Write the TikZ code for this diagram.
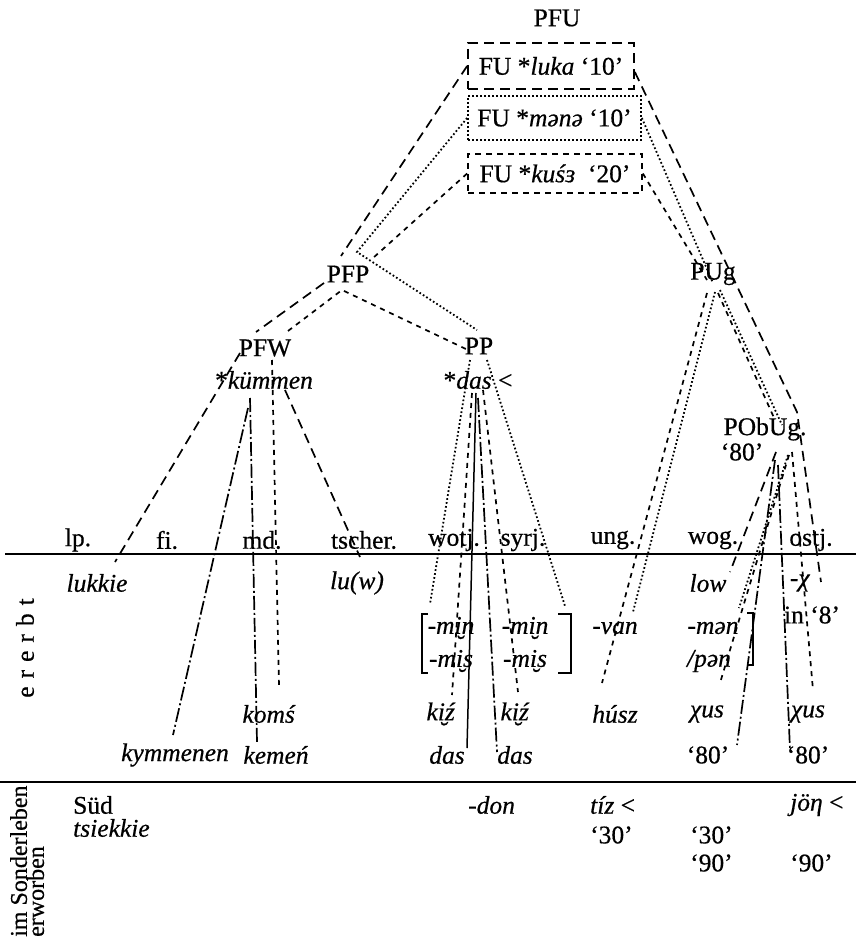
\documentclass[tikz,border=0pt]{standalone}
\usepackage{fontspec}
\setmainfont{Liberation Serif}[FakeBold=0.5]
\begin{document}
\begin{tikzpicture}[x=1pt,y=-1pt,
  lbl/.style={inner sep=0pt, font=\fontsize{25.5}{28}\selectfont},
  ln/.style={line width=1.7pt},
  ldash/.style={ln, dash pattern=on 10pt off 6pt},
  sdash/.style={ln, dash pattern=on 5pt off 5pt},
  dotl/.style={line width=1.8pt, dash pattern=on 1.7pt off 2.3pt},
  ddot/.style={ln, dash pattern=on 14pt off 3pt on 2pt off 3pt},
  solidl/.style={line width=1.5pt},
  rulel/.style={line width=2pt},
  fubox/.style={lbl, draw, line width=1.7pt, minimum width=#1},
]
\useasboundingbox (0,0) rectangle (856,941);

% ---------- proto-language nodes ----------
\node[lbl] (pfu) at (557,18) {PFU};
\node[fubox=166pt, minimum height=46pt, dash pattern=on 10pt off 6pt] (luka) at (551,66) {FU *\textit{luka} ‘10’};
\node[fubox=173pt, minimum height=44pt, line width=1.8pt, dash pattern=on 1.7pt off 2.3pt] (mana) at (554.5,118) {FU *\textit{mənə} ‘10’};
\node[fubox=174pt, minimum height=39pt, dash pattern=on 6pt off 5pt] (kusz) at (555,173.5) {FU *\textit{kuśɜ}\ \ ‘20’};

\node[lbl] (pfp) at (348,274) {PFP};
\node[lbl] (pp) at (479,346) {PP};
\node[lbl] (pfw) at (265,348) {PFW};
\node[lbl] (kuemmen) at (264,380) {*\textit{kümmen}};
\node[lbl] (dasp) at (478,380) {*\textit{das} <};
\node[lbl] (pug) at (713,274) {PUg};
\node[lbl] (pobug) at (765,429) {PObUg.};
\node[lbl] (pobug80) at (742,452) {‘80’};

% ---------- language columns ----------
\foreach \n/\x/\t in {lp/78/lp., fi/167/fi., md/262/md., tscher/364/tscher., wotj/454/wotj., syrj/523/syrj., ung/613/ung., wog/713/wog., ostj/811/ostj.}
  \node[lbl] (h-\n) at (\x,540) {\t};

\draw[rulel] (5,554) -- (856,554);
\draw[rulel] (0,782) -- (856,782);

% inherited forms
\node[lbl] (lukkie) at (97,583) {\textit{lukkie}};
\node[lbl] (luw) at (357,583) {\textit{lu(w)}};
\node[lbl] (low) at (708,583) {\textit{low}};
\node[lbl] (chi) at (800,583) {-\textit{χ}};
\node[lbl] (in8) at (812,615) {in ‘8’};

\node[lbl] (min1) at (451,628) {-\textit{mi̮n}};
\node[lbl] (min2) at (525,628) {-\textit{mi̮n}};
\node[lbl] (van) at (615,628) {-\textit{van}};
\node[lbl] (man) at (713,628) {-\textit{mən}};
\node[lbl] (mis1) at (451,661) {-\textit{mi̮s}};
\node[lbl] (mis2) at (525,661) {-\textit{mi̮s}};
\node[lbl] (pan) at (709,661) {\textit{/pən}};

\node[lbl] (koms) at (269,714) {\textit{komś}};
\node[lbl] (kiz1) at (441,714) {\textit{ki̮ź}};
\node[lbl] (kiz2) at (515,714) {\textit{ki̮ź}};
\node[lbl] (husz) at (615,714) {\textit{húsz}};
\node[lbl] (chus1) at (707,714) {\textit{χus}};
\node[lbl] (chus2) at (808,714) {\textit{χus}};

\node[lbl] (kymmenen) at (175,755) {\textit{kymmenen}};
\node[lbl] (kemen) at (276,755) {\textit{kemeń}};
\node[lbl] (das1) at (447,755) {\textit{das}};
\node[lbl] (das2) at (515,755) {\textit{das}};
\node[lbl] (e80a) at (708,755) {‘80’};
\node[lbl] (e80b) at (808,755) {‘80’};

% later acquisitions
\node[lbl, anchor=west] (sued) at (73,805) {Süd};
\node[lbl, anchor=west] (tsiekkie) at (73,828) {\textit{tsiekkie}};
\node[lbl, anchor=west] (don) at (468,805) {-\textit{don}};
\node[lbl, anchor=west] (tiz) at (590,805) {\textit{tíz} <};
\node[lbl, anchor=west] (jon) at (790,805) {\textit{jöη} <};
\node[lbl, anchor=west] (u30a) at (590,835) {‘30’};
\node[lbl, anchor=west] (u30b) at (690,835) {‘30’};
\node[lbl, anchor=west] (u90a) at (690,863) {‘90’};
\node[lbl, anchor=west] (u90b) at (790,863) {‘90’};

% side captions
\node[lbl, rotate=90] (ererbt) at (25,648) {e\hspace{8pt}r\hspace{8pt}e\hspace{8pt}r\hspace{8pt}b\hspace{8pt}t};
\node[inner sep=0pt, rotate=90, anchor=north west, align=left, font=\fontsize{24}{17}\selectfont] (sonder) at (10,937) {im Sonderleben\\erworben};

% ---------- brackets ----------
\draw[solidl] (428,614) -- (422,614) -- (422,673) -- (428,673);
\draw[solidl] (558,614) -- (571,614) -- (571,673) -- (558,673);
\draw[line width=1.2pt] (747,613) -- (753,613) -- (753,665) -- (748,665);

% ---------- named end points ----------
\coordinate (pfp-a) at (341,256);
\coordinate (pfp-b) at (357,252);
\coordinate (pfp-c) at (373,258);
\coordinate (pfp-d) at (324,283);
\coordinate (pfp-e) at (342,290);
\coordinate (pfw-a) at (256,332);
\coordinate (pfw-b) at (288,331);
\coordinate (pfw-c) at (240,353);
\coordinate (pfw-d) at (285,390);
\coordinate (pfw-e) at (272,360);
\coordinate (pfw-f) at (248,408);
\coordinate (pfw-g) at (250,398);
\coordinate (pp-a) at (477,330);
\coordinate (pp-b) at (468,350);
\coordinate (pp-l) at (470,360);
\coordinate (pp-r) at (487,360);
\coordinate (das-a) at (472,393);
\coordinate (das-b) at (483,390);
\coordinate (das-c) at (476,393);
\coordinate (das-d) at (478,398);
\coordinate (pug-a) at (713,283);
\coordinate (pug-b) at (707,280);
\coordinate (pug-c) at (715,292);
\coordinate (pug-d) at (707,293);
\coordinate (pug-e) at (718,293);
\coordinate (pug-f) at (720,290);
\coordinate (pob-a) at (797,412);
\coordinate (pob-b) at (775,420);
\coordinate (pob-c) at (782,425);
\coordinate (pob-d) at (776,452);
\coordinate (pob-e) at (788,455);
\coordinate (pob-f) at (789,455);
\coordinate (pob-g) at (775,460);
\coordinate (pob-h) at (778,465);
\coordinate (pob-i) at (792,452);

\coordinate (t-lukkie) at (115,562);
\coordinate (t-luw) at (360,557);
\coordinate (t-koms) at (279,686);
\coordinate (t-kymm) at (173,735);
\coordinate (t-kemen) at (257,742);
\coordinate (t-brl) at (430,604);
\coordinate (t-brr) at (565,606);
\coordinate (t-kiz1) at (452,695);
\coordinate (t-kiz2) at (518,692);
\coordinate (t-das1) at (467,748);
\coordinate (t-das2) at (497,752);
\coordinate (t-van) at (633,612);
\coordinate (t-husz) at (602,683);
\coordinate (t-low) at (730,572);
\coordinate (t-ostj) at (821,582);
\coordinate (t-man) at (739,608);
\coordinate (t-chus1) at (720,683);
\coordinate (t-80a) at (737,745);
\coordinate (t-80b) at (790,750);
\coordinate (t-chus2) at (813,690);

% ---------- FU *luka '10' ----------
\draw[ldash] (luka.west |- 0,66) -- (pfp-a);
\draw[ldash] (pfp-d) -- (pfw-a);
\draw[ldash] (pfw-c) -- (t-lukkie);
\draw[ldash] (pfw-d) -- (t-luw);
\draw[ldash] (luka.east |- 0,72) -- (pob-a) -- (t-ostj);
\draw[ldash] (pob-d) -- (t-low);

% ---------- FU *mənə '10' ----------
\draw[dotl] (mana.west) -- (pfp-b) -- (pp-a);
\draw[dotl] (pp-l) -- (t-brl);
\draw[dotl] (pp-r) -- (t-brr);
\draw[dotl] (mana.east) -- (pug-a);
\draw[dotl] (pug-c) -- (t-van);
\draw[dotl] (pug-f) -- (pob-c);
\draw[dotl] (pob-e) -- (t-man);

% ---------- FU *kuśɜ '20' ----------
\draw[sdash] (kusz.west) -- (pfp-c);
\draw[sdash] (pfw-b) -- (pfp-e) -- (pp-b);
\draw[sdash] (pfw-e) -- (t-koms);
\draw[sdash] (das-a) -- (t-kiz1);
\draw[sdash] (das-b) -- (t-kiz2);
\draw[sdash] (kusz.east) -- (pug-b);
\draw[sdash] (pug-d) -- (t-husz);
\draw[sdash] (pug-e) -- (pob-b);
\draw[sdash] (pob-f) -- (t-chus1);
\draw[sdash] (pob-i) -- (t-chus2);

% ---------- *kümmen, *das, '80' ----------
\draw[ddot] (pfw-f) -- (t-kymm);
\draw[ddot] (pfw-g) -- (t-kemen);
\draw[solidl] (das-c) -- (t-das1);
\draw[ddot] (das-d) -- (t-das2);
\draw[ddot] (pob-g) -- (t-80a);
\draw[ddot] (pob-h) -- (t-80b);
\end{tikzpicture}
\end{document}
